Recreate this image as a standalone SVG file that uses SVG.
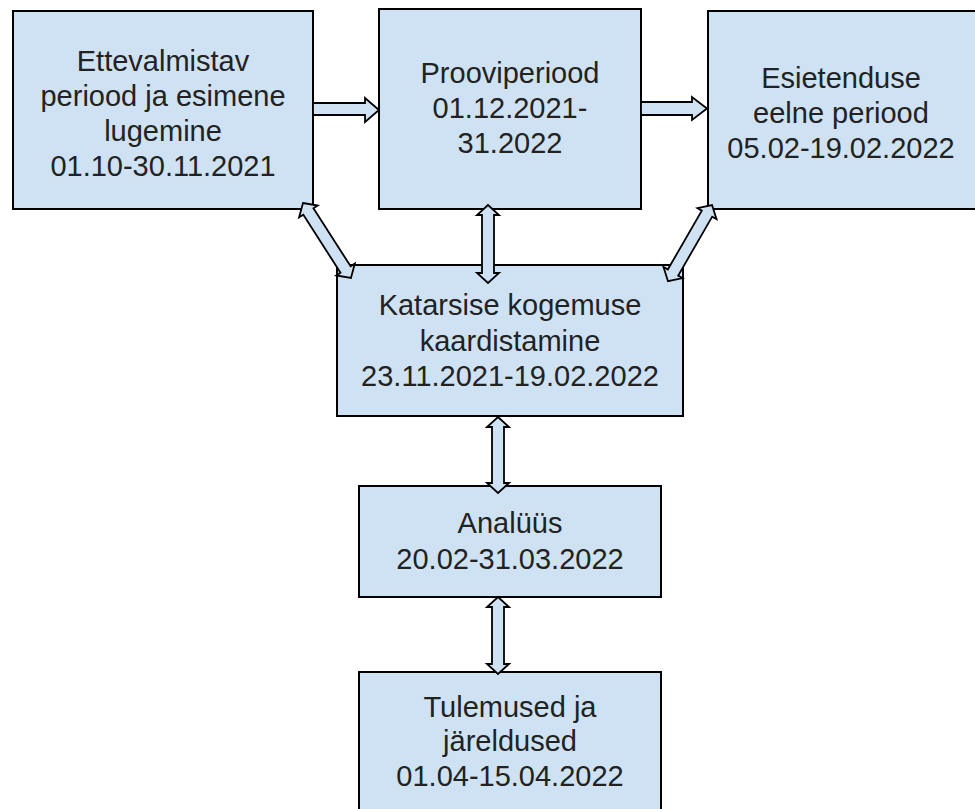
<svg xmlns="http://www.w3.org/2000/svg" width="975" height="809" viewBox="0 0 975 809">
<style>
.box{fill:#cfe2f3;stroke:#000;stroke-width:2}
.arr{fill:#cfe2f3;stroke:#000;stroke-width:1.8;stroke-linejoin:miter}
text{font-family:"Liberation Sans",Arial,sans-serif;font-size:29px;fill:#222;text-anchor:middle}
</style>
<rect width="975" height="809" fill="#fff"/>
<g id="node-ettevalmistav">
<rect class="box" x="13" y="11" width="300" height="198"/>
<text x="163" y="71">Ettevalmistav</text>
<text x="163" y="106">periood ja esimene</text>
<text x="163" y="141">lugemine</text>
<text x="163" y="176">01.10-30.11.2021</text>
</g>
<g id="node-prooviperiood">
<rect class="box" x="379" y="9" width="262" height="200"/>
<text x="510" y="83">Prooviperiood</text>
<text x="510" y="118">01.12.2021-</text>
<text x="510" y="153">31.2022</text>
</g>
<g id="node-esietendus">
<rect class="box" x="708" y="11" width="268" height="198"/>
<text x="841" y="88">Esietenduse</text>
<text x="841" y="123">eelne periood</text>
<text x="841" y="158">05.02-19.02.2022</text>
</g>
<g id="node-katarsis">
<rect class="box" x="337" y="265" width="346" height="151"/>
<text x="510" y="315">Katarsise kogemuse</text>
<text x="510" y="351">kaardistamine</text>
<text x="510" y="386">23.11.2021-19.02.2022</text>
</g>
<g id="node-analyys">
<rect class="box" x="359" y="486" width="302" height="111"/>
<text x="510" y="533">Analüüs</text>
<text x="510" y="569">20.02-31.03.2022</text>
</g>
<g id="node-tulemused">
<rect class="box" x="359" y="672" width="302" height="150"/>
<text x="510" y="717">Tulemused ja</text>
<text x="510" y="751">järeldused</text>
<text x="510" y="786">01.04-15.04.2022</text>
</g>
<g id="connectors">
<path class="arr" d="M313,103 L365,103 L365,98 L379,110 L365,122 L365,115 L313,115 Z"/>
<path class="arr" d="M641,102 L692,102 L692,97 L707,108.5 L692,120 L692,115 L641,115 Z"/>
<path class="arr" transform="translate(303,203) rotate(57.4)" d="M0,0 L10,-11 L10,-6 L79,-6 L79,-11 L89,0 L79,11 L79,6 L10,6 L10,11 Z"/>
<path class="arr" transform="translate(712,205) rotate(120)" d="M0,0 L10,-11 L10,-6 L78,-6 L78,-11 L88,0 L78,11 L78,6 L10,6 L10,11 Z"/>
<path class="arr" transform="translate(488,205) rotate(90)" d="M0,0 L10,-11 L10,-6 L68,-6 L68,-11 L78,0 L68,11 L68,6 L10,6 L10,11 Z"/>
<path class="arr" transform="translate(498,417) rotate(90)" d="M0,0 L10,-11 L10,-6 L66,-6 L66,-11 L76,0 L66,11 L66,6 L10,6 L10,11 Z"/>
<path class="arr" transform="translate(498,597) rotate(90)" d="M0,0 L10,-11 L10,-6 L67,-6 L67,-11 L77,0 L67,11 L67,6 L10,6 L10,11 Z"/>
</g>
</svg>
